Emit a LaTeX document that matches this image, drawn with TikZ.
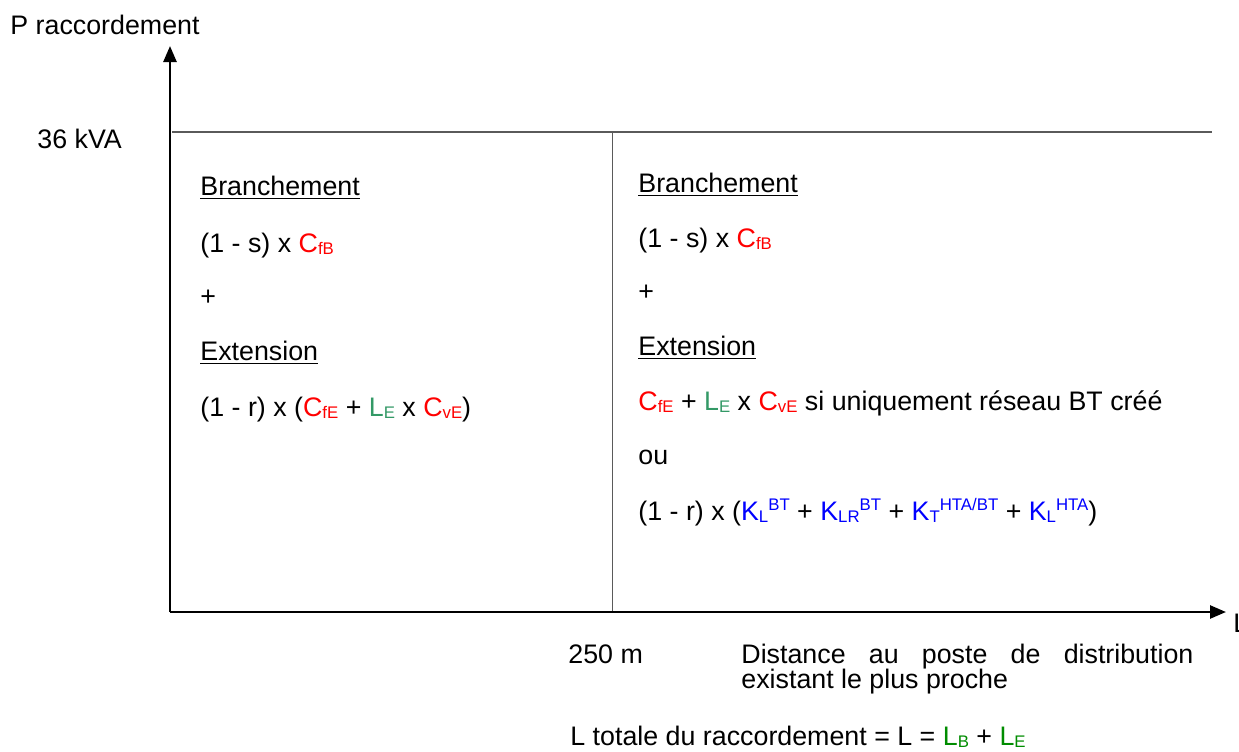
\documentclass[tikz,border=0pt]{standalone}
\usepackage{fontspec}
\setmainfont{Liberation Sans}
\usepackage{xcolor}
\definecolor{ccred}{RGB}{255,0,0}
\definecolor{ccteal}{RGB}{51,153,102}
\definecolor{ccgreen}{RGB}{0,140,0}
\definecolor{ccblue}{RGB}{0,0,255}
\definecolor{ccgray}{RGB}{90,90,90}
\usetikzlibrary{arrows.meta,positioning}
\newcommand{\rd}[1]{\textcolor{ccred}{#1}}
\newcommand{\gn}[1]{\textcolor{ccteal}{#1}}
\newcommand{\bl}[1]{\textcolor{ccblue}{#1}}
\newcommand{\sbs}[1]{\raisebox{-1pt}{\fontsize{8.4}{8.4}\selectfont #1}}
\newcommand{\sps}[1]{\raisebox{4.6pt}{\fontsize{8.4}{8.4}\selectfont #1}}
\tikzset{
  lbl/.style={anchor=base west, inner sep=0pt, font=\fontsize{13.4}{12.5}\selectfont},
  axis/.style={line width=1.3pt, -{Triangle[length=8pt, width=6.5pt]}},
  frame/.style={ccgray, line width=0.6pt}
}
\begin{document}
\begin{tikzpicture}[x=0.5pt, y=-0.5pt]
  \useasboundingbox (0,0) rectangle (1239,751);
  \coordinate (origin) at (170,612);
  \coordinate (ytip) at (170,46);
  \coordinate (xtip) at (1226,612);
  \coordinate (topl) at (172,132);
  \coordinate (topr) at (1212,132);
  \coordinate (divtop) at (612,132);
  \coordinate (divbot) at (612,612);
  \draw[frame] (topl) -- (topr);
  \draw[frame, line width=0.4pt] (divtop) -- (divbot);
  \draw[axis] (origin) -- (ytip);
  \draw[axis] (origin) -- (xtip);

  \node[lbl] (yname) at (10,34) {P raccordement};
  \node[lbl] (xname) at (1233,632) {L};
  \node[lbl] (pmax) at (37,148) {36 kVA};
  \node[lbl] (lmax) at (568,663) {250 m};
  \node[lbl, anchor=base west, text width=226pt, align=justify] (xdesc) at (741,663)
    {Distance au poste de distribution\linebreak existant le plus proche};
  \node[lbl] (ltot) at (570,745)
    {L totale du raccordement = L = \textcolor{ccgreen}{L\sbs{B}} + \textcolor{ccgreen}{L\sbs{E}}};

  \node[lbl] (bA) at (200,195) {\underline{Branchement}};
  \node[lbl] (fA) at (200,252) {(1 - s) x \rd{C\sbs{fB}}};
  \node[lbl] (pA) at (200,305) {+};
  \node[lbl] (eA) at (200,360) {\underline{Extension}};
  \node[lbl] (gA) at (200,416)
    {(1 - r) x (\rd{C\sbs{fE}} + \gn{L\sbs{E}} x \rd{C\sbs{vE}})};

  \node[lbl] (bB) at (638,192) {\underline{Branchement}};
  \node[lbl] (fB) at (638,247) {(1 - s) x \rd{C\sbs{fB}}};
  \node[lbl] (pB) at (638,300) {+};
  \node[lbl] (eB) at (638,355) {\underline{Extension}};
  \node[lbl] (gB) at (638,410)
    {\rd{C\sbs{fE}} + \gn{L\sbs{E}} x \rd{C\sbs{vE}} si uniquement réseau BT créé};
  \node[lbl] (oB) at (638,464) {ou};
  \node[lbl] (hB) at (638,520)
    {(1 - r) x (\bl{K\sbs{L}\sps{BT}} + \bl{K\sbs{LR}\sps{BT}} + \bl{K\sbs{T}\sps{HTA/BT}} + \bl{K\sbs{L}\sps{HTA}})};
\end{tikzpicture}
\end{document}
